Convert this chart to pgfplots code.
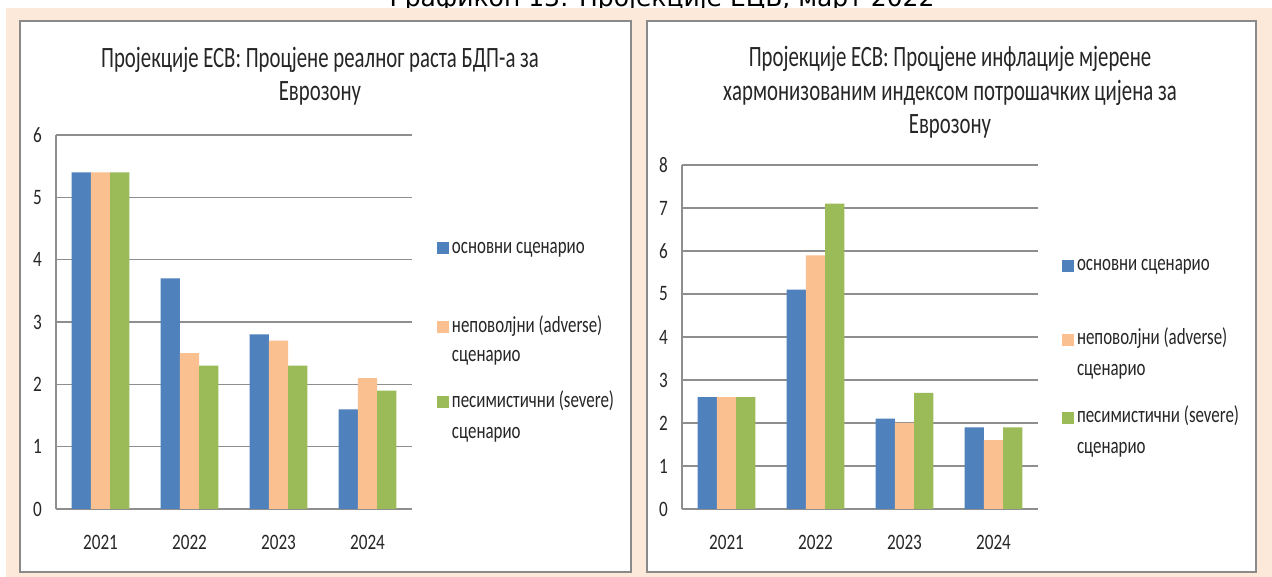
\documentclass[border=0pt]{standalone}
\usepackage{fontspec}
\setmainfont{Carlito}[FakeStretch=0.78]
\newfontfamily\ttlfont{Carlito}[FakeStretch=0.705]
\newfontfamily\lgdfont{Carlito}[FakeStretch=0.735]
\newfontfamily\titlefont{DejaVu Sans}
\usepackage{pgfplots}
\pgfplotsset{compat=1.18}
\definecolor{barblue}{HTML}{4F81BD}
\definecolor{barorange}{HTML}{FAC090}
\definecolor{bargreen}{HTML}{9BBB59}
\definecolor{peach}{HTML}{FCE9DA}
\definecolor{gridgray}{HTML}{8E8E8E}
\definecolor{framegray}{HTML}{8A8A8A}
\definecolor{txt}{HTML}{262626}

\pgfplotsset{
 mybars/.style={
  scale only axis, width=356pt, anchor=south west,
  xmin=-0.5, xmax=3.5, ymin=0,
  xtick={0,1,2,3}, xticklabels={2021,2022,2023,2024},
  ybar, bar width=19.3pt,
  axis lines*=left, axis line style={draw=gridgray, line width=1.2pt, -},
  ymajorgrids, grid style={draw=gridgray, line width=1.2pt},
  major tick length=0pt, tick style={draw=none},
  /pgf/number format/assume math mode=true,
  tick label style={font=\fontsize{22}{26}\selectfont, text=txt},
  yticklabel style={anchor=east, inner sep=0pt, xshift=-14pt},
  xticklabel style={anchor=north, inner sep=0pt, yshift=-26pt},
  legend style={draw=none, fill=none, inner sep=0pt, outer sep=0pt,
    row sep=0pt, column sep=3pt, anchor=north west,
    font=\lgdfont\fontsize{23}{27}\selectfont, text=txt,
    nodes={inner sep=0pt}, cells={anchor=base west}},
  legend image code/.code={\fill (0pt,-1pt) rectangle (12pt,11pt);},
 }
}

\begin{document}
\begin{tikzpicture}[x=1pt,y=1pt]
\useasboundingbox (0,0) rectangle (1272,577);
\fill[white] (0,0) rectangle (1272,577);
\node[font=\titlefont\fontsize{25}{29}\selectfont, anchor=base, inner sep=0pt, text=black] at (662,570) {Графикон 13: Пројекције ЕЦБ, март 2022};
\fill[peach] (6,0) rectangle (1272,569);
\draw[framegray, line width=1.5pt, fill=white] (20,5) rectangle (631,556);
\draw[framegray, line width=1.5pt, fill=white] (647,5) rectangle (1256,556);

\node[anchor=north, align=center, inner sep=0pt, text=txt, font=\ttlfont\fontsize{29.5}{33.4}\selectfont] at (320,530) {Пројекције ЕСВ: Процјене реалног раста БДП-а за\\Еврозону};
\node[anchor=north, align=center, inner sep=0pt, text=txt, font=\ttlfont\fontsize{29.5}{33.4}\selectfont] at (950,530.5) {Пројекције ЕСВ: Процјене инфлације мјерене\\хармонизованим индексом потрошачких цијена за\\Еврозону};

% Chart 1: real GDP growth
\begin{axis}[mybars, at={(56pt,68pt)}, height=374pt, ymax=6, ytick={0,1,2,3,4,5,6},
  legend style={at={(1.0702,0.7313)}}]
\addplot[fill=barblue, draw=none, bar shift=-19.3pt, forget plot] coordinates {(0,5.4) (1,3.7) (2,2.8) (3,1.6)};
\addplot[fill=barorange, draw=none, bar shift=0pt, forget plot] coordinates {(0,5.4) (1,2.5) (2,2.7) (3,2.1)};
\addplot[fill=bargreen, draw=none, bar shift=19.3pt, forget plot] coordinates {(0,5.4) (1,2.3) (2,2.3) (3,1.9)};
\addlegendimage{fill=barblue, draw=none}
\addlegendentry[text height=18pt, text depth=61pt]{основни сценарио}
\addlegendimage{fill=barorange, draw=none}
\addlegendentry[text height=18pt, text depth=11pt]{неповолјни (adverse)}
\addlegendimage{empty legend}
\addlegendentry[text height=18pt, text depth=28pt]{сценарио}
\addlegendimage{fill=bargreen, draw=none}
\addlegendentry[text height=18pt, text depth=13pt]{песимистични (severe)}
\addlegendimage{empty legend}
\addlegendentry[text height=18pt, text depth=6pt]{сценарио}
\end{axis}

% Chart 2: HICP inflation
\begin{axis}[mybars, at={(682pt,68pt)}, height=344pt, ymax=8, ytick={0,1,2,3,4,5,6,7,8},
  legend style={at={(1.0674,0.7456)}}]
\addplot[fill=barblue, draw=none, bar shift=-19.3pt, forget plot] coordinates {(0,2.6) (1,5.1) (2,2.1) (3,1.9)};
\addplot[fill=barorange, draw=none, bar shift=0pt, forget plot] coordinates {(0,2.6) (1,5.9) (2,2.0) (3,1.6)};
\addplot[fill=bargreen, draw=none, bar shift=19.3pt, forget plot] coordinates {(0,2.6) (1,7.1) (2,2.7) (3,1.9)};
\addlegendimage{fill=barblue, draw=none}
\addlegendentry[text height=18pt, text depth=56pt]{основни сценарио}
\addlegendimage{fill=barorange, draw=none}
\addlegendentry[text height=18pt, text depth=13pt]{неповолјни (adverse)}
\addlegendimage{empty legend}
\addlegendentry[text height=18pt, text depth=29pt]{сценарио}
\addlegendimage{fill=bargreen, draw=none}
\addlegendentry[text height=18pt, text depth=13pt]{песимистични (severe)}
\addlegendimage{empty legend}
\addlegendentry[text height=18pt, text depth=6pt]{сценарио}
\end{axis}
\end{tikzpicture}
\end{document}
